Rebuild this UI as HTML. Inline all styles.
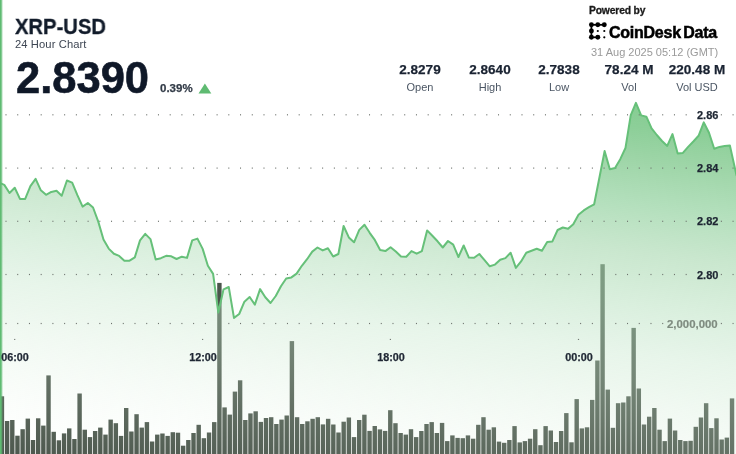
<!DOCTYPE html>
<html><head><meta charset="utf-8">
<style>
html,body{margin:0;padding:0;background:#fff;}
body{width:736px;height:454px;position:relative;overflow:hidden;font-family:"Liberation Sans",sans-serif;}
#w{position:absolute;left:0;top:0;width:736px;height:454px;filter:blur(0.35px);}
.t{position:absolute;white-space:nowrap;line-height:1;will-change:transform;}
svg{position:absolute;left:0;top:0;}
.c{width:100px;text-align:center;}
.r{right:18px;text-align:right;}
</style></head><body><div id="w">
<svg width="736" height="454" viewBox="0 0 736 454">
  <defs>
    <linearGradient id="g" x1="647" y1="76" x2="593.0" y2="535.7" gradientUnits="userSpaceOnUse"><stop offset="0.0000" stop-color="#73c482" stop-opacity="0.920"/><stop offset="0.1116" stop-color="#78c686" stop-opacity="0.850"/><stop offset="0.1867" stop-color="#84ca90" stop-opacity="0.780"/><stop offset="0.2725" stop-color="#91d19e" stop-opacity="0.700"/><stop offset="0.3798" stop-color="#a4d6ac" stop-opacity="0.590"/><stop offset="0.4249" stop-color="#a9d9b1" stop-opacity="0.550"/><stop offset="0.4936" stop-color="#b3dfbb" stop-opacity="0.490"/><stop offset="0.5622" stop-color="#bbe2c3" stop-opacity="0.420"/><stop offset="0.6009" stop-color="#c1e5c8" stop-opacity="0.380"/><stop offset="0.6545" stop-color="#c7e7cc" stop-opacity="0.340"/><stop offset="0.7082" stop-color="#cce9d0" stop-opacity="0.280"/><stop offset="0.8305" stop-color="#d7eed9" stop-opacity="0.150"/><stop offset="0.9335" stop-color="#e6f8e7" stop-opacity="0.056"/><stop offset="1.0000" stop-color="#f0faf0" stop-opacity="0.000"/></linearGradient>
  </defs>
  <g fill="#4a554b"><rect x="-0.27" y="396.3" width="4.4" height="57.7"/><rect x="4.91" y="421" width="4.4" height="33"/><rect x="10.09" y="420" width="4.4" height="34"/><rect x="15.26" y="435.7" width="4.4" height="18.3"/><rect x="20.44" y="429.2" width="4.4" height="24.8"/><rect x="25.62" y="418.6" width="4.4" height="35.4"/><rect x="30.8" y="440" width="4.4" height="14"/><rect x="35.98" y="418.3" width="4.4" height="35.7"/><rect x="41.15" y="425.6" width="4.4" height="28.4"/><rect x="46.33" y="375.4" width="4.4" height="78.6"/><rect x="51.51" y="431.8" width="4.4" height="22.2"/><rect x="56.69" y="440.3" width="4.4" height="13.7"/><rect x="61.87" y="433.4" width="4.4" height="20.6"/><rect x="67.04" y="428.4" width="4.4" height="25.6"/><rect x="72.22" y="439" width="4.4" height="15"/><rect x="77.4" y="393.5" width="4.4" height="60.5"/><rect x="82.58" y="429.7" width="4.4" height="24.3"/><rect x="87.76" y="437.1" width="4.4" height="16.9"/><rect x="92.93" y="431" width="4.4" height="23"/><rect x="98.11" y="427.6" width="4.4" height="26.4"/><rect x="103.29" y="434.6" width="4.4" height="19.4"/><rect x="108.47" y="419.6" width="4.4" height="34.4"/><rect x="113.65" y="423.2" width="4.4" height="30.8"/><rect x="118.82" y="435.9" width="4.4" height="18.1"/><rect x="124" y="408" width="4.4" height="46"/><rect x="129.18" y="431.5" width="4.4" height="22.5"/><rect x="134.36" y="414.2" width="4.4" height="39.8"/><rect x="139.54" y="427.6" width="4.4" height="26.4"/><rect x="144.71" y="422.1" width="4.4" height="31.9"/><rect x="149.89" y="441.5" width="4.4" height="12.5"/><rect x="155.07" y="434.6" width="4.4" height="19.4"/><rect x="160.25" y="433.5" width="4.4" height="20.5"/><rect x="165.43" y="435.9" width="4.4" height="18.1"/><rect x="170.6" y="432.2" width="4.4" height="21.8"/><rect x="175.78" y="432.7" width="4.4" height="21.3"/><rect x="180.96" y="445.7" width="4.4" height="8.3"/><rect x="186.14" y="440" width="4.4" height="14"/><rect x="191.32" y="433" width="4.4" height="21"/><rect x="196.49" y="424.8" width="4.4" height="29.2"/><rect x="201.67" y="438.2" width="4.4" height="15.8"/><rect x="206.85" y="432.5" width="4.4" height="21.5"/><rect x="212.03" y="422.1" width="4.4" height="31.9"/><rect x="217.21" y="282.9" width="4.4" height="171.1"/><rect x="222.38" y="407.4" width="4.4" height="46.6"/><rect x="227.56" y="414.6" width="4.4" height="39.4"/><rect x="232.74" y="391.6" width="4.4" height="62.4"/><rect x="237.92" y="380.3" width="4.4" height="73.7"/><rect x="243.1" y="420" width="4.4" height="34"/><rect x="248.27" y="413.4" width="4.4" height="40.6"/><rect x="253.45" y="411.3" width="4.4" height="42.7"/><rect x="258.63" y="421.9" width="4.4" height="32.1"/><rect x="263.81" y="418" width="4.4" height="36"/><rect x="268.99" y="417.2" width="4.4" height="36.8"/><rect x="274.16" y="424" width="4.4" height="30"/><rect x="279.34" y="419.6" width="4.4" height="34.4"/><rect x="284.52" y="415.5" width="4.4" height="38.5"/><rect x="289.7" y="341.1" width="4.4" height="112.9"/><rect x="294.88" y="417.2" width="4.4" height="36.8"/><rect x="300.05" y="424" width="4.4" height="30"/><rect x="305.23" y="421.3" width="4.4" height="32.7"/><rect x="310.41" y="418.8" width="4.4" height="35.2"/><rect x="315.59" y="417.2" width="4.4" height="36.8"/><rect x="320.77" y="424.4" width="4.4" height="29.6"/><rect x="325.94" y="418.8" width="4.4" height="35.2"/><rect x="331.12" y="424.5" width="4.4" height="29.5"/><rect x="336.3" y="432.5" width="4.4" height="21.5"/><rect x="341.48" y="421.7" width="4.4" height="32.3"/><rect x="346.66" y="417.5" width="4.4" height="36.5"/><rect x="351.83" y="437.1" width="4.4" height="16.9"/><rect x="357.01" y="420" width="4.4" height="34"/><rect x="362.19" y="414.7" width="4.4" height="39.3"/><rect x="367.37" y="430.9" width="4.4" height="23.1"/><rect x="372.55" y="426" width="4.4" height="28"/><rect x="377.72" y="429.4" width="4.4" height="24.6"/><rect x="382.9" y="430.9" width="4.4" height="23.1"/><rect x="388.08" y="410.2" width="4.4" height="43.8"/><rect x="393.26" y="423.2" width="4.4" height="30.8"/><rect x="398.44" y="433" width="4.4" height="21"/><rect x="403.61" y="434.6" width="4.4" height="19.4"/><rect x="408.79" y="429.2" width="4.4" height="24.8"/><rect x="413.97" y="437.1" width="4.4" height="16.9"/><rect x="419.15" y="431" width="4.4" height="23"/><rect x="424.33" y="424" width="4.4" height="30"/><rect x="429.5" y="422.1" width="4.4" height="31.9"/><rect x="434.68" y="433" width="4.4" height="21"/><rect x="439.86" y="422.9" width="4.4" height="31.1"/><rect x="445.04" y="441.1" width="4.4" height="12.9"/><rect x="450.22" y="435.4" width="4.4" height="18.6"/><rect x="455.39" y="437.9" width="4.4" height="16.1"/><rect x="460.57" y="438.2" width="4.4" height="15.8"/><rect x="465.75" y="435.4" width="4.4" height="18.6"/><rect x="470.93" y="438.7" width="4.4" height="15.3"/><rect x="476.11" y="424.8" width="4.4" height="29.2"/><rect x="481.28" y="417.2" width="4.4" height="36.8"/><rect x="486.46" y="429.7" width="4.4" height="24.3"/><rect x="491.64" y="427.3" width="4.4" height="26.7"/><rect x="496.82" y="441.6" width="4.4" height="12.4"/><rect x="502" y="442.8" width="4.4" height="11.2"/><rect x="507.17" y="440" width="4.4" height="14"/><rect x="512.35" y="426.1" width="4.4" height="27.9"/><rect x="517.53" y="442.4" width="4.4" height="11.6"/><rect x="522.71" y="441.1" width="4.4" height="12.9"/><rect x="527.89" y="438.7" width="4.4" height="15.3"/><rect x="533.06" y="429.2" width="4.4" height="24.8"/><rect x="538.24" y="445.2" width="4.4" height="8.8"/><rect x="543.42" y="426.1" width="4.4" height="27.9"/><rect x="548.6" y="430.5" width="4.4" height="23.5"/><rect x="553.78" y="442" width="4.4" height="12"/><rect x="558.95" y="431" width="4.4" height="23"/><rect x="564.13" y="413.1" width="4.4" height="40.9"/><rect x="569.31" y="442.3" width="4.4" height="11.7"/><rect x="574.49" y="399.1" width="4.4" height="54.9"/><rect x="579.67" y="428.4" width="4.4" height="25.6"/><rect x="584.84" y="427.3" width="4.4" height="26.7"/><rect x="590.02" y="399.9" width="4.4" height="54.1"/><rect x="595.2" y="360.5" width="4.4" height="93.5"/><rect x="600.38" y="264.2" width="4.4" height="189.8"/><rect x="605.56" y="389.6" width="4.4" height="64.4"/><rect x="610.73" y="427.8" width="4.4" height="26.2"/><rect x="615.91" y="403.2" width="4.4" height="50.8"/><rect x="621.09" y="402.5" width="4.4" height="51.5"/><rect x="626.27" y="396.3" width="4.4" height="57.7"/><rect x="631.45" y="327.9" width="4.4" height="126.1"/><rect x="636.62" y="388.5" width="4.4" height="65.5"/><rect x="641.8" y="424.5" width="4.4" height="29.5"/><rect x="646.98" y="416.7" width="4.4" height="37.3"/><rect x="652.16" y="408" width="4.4" height="46"/><rect x="657.34" y="429.7" width="4.4" height="24.3"/><rect x="662.51" y="441.1" width="4.4" height="12.9"/><rect x="667.69" y="418.6" width="4.4" height="35.4"/><rect x="672.87" y="430.5" width="4.4" height="23.5"/><rect x="678.05" y="440" width="4.4" height="14"/><rect x="683.23" y="441.1" width="4.4" height="12.9"/><rect x="688.4" y="440.8" width="4.4" height="13.2"/><rect x="693.58" y="426.8" width="4.4" height="27.2"/><rect x="698.76" y="417.5" width="4.4" height="36.5"/><rect x="703.94" y="403.2" width="4.4" height="50.8"/><rect x="709.12" y="428.1" width="4.4" height="25.9"/><rect x="714.29" y="418.3" width="4.4" height="35.7"/><rect x="719.47" y="439.5" width="4.4" height="14.5"/><rect x="724.65" y="437.6" width="4.4" height="16.4"/><rect x="729.83" y="398.4" width="4.4" height="55.6"/></g>
  <path d="M-0.92 182.6 L4.3 184.9 L9.52 193 L14.74 187.8 L19.96 198.9 L25.18 198.9 L30.4 186.2 L35.62 178.9 L40.84 190.3 L46.06 194.8 L51.28 191.9 L56.5 190.8 L61.72 195.7 L66.94 180.5 L72.16 182.6 L77.38 195.2 L82.6 206.6 L87.82 203 L93.04 207.5 L98.26 221.6 L103.48 239.5 L108.7 248.6 L113.92 253.8 L119.14 255.9 L124.36 260.7 L129.58 260.7 L134.8 257.4 L140.02 240.4 L145.24 233.9 L150.46 239.1 L155.68 259.5 L160.9 258.2 L166.12 255.8 L171.34 256.3 L176.56 259 L181.78 256.7 L187 257.9 L192.22 240.4 L197.44 238.6 L202.66 248.9 L207.88 265.7 L213.1 273.9 L218.32 312.5 L223.54 289.3 L228.76 287 L233.98 317.9 L239.2 314 L244.42 301.7 L249.64 297 L254.86 304.6 L260.08 289.1 L265.3 297.3 L270.52 303 L275.74 296 L280.96 286.2 L286.18 278.5 L291.4 277.4 L296.62 273.6 L301.84 265.8 L307.06 259.2 L312.28 251.6 L317.5 247.5 L322.72 250.4 L327.94 248.3 L333.16 256.5 L338.38 254 L343.6 226 L348.82 237.4 L354.04 242.3 L359.26 229.9 L364.48 224.7 L369.7 232.8 L374.92 240.2 L380.14 250 L385.36 251.1 L390.58 247.2 L395.8 251.6 L401.02 256.5 L406.24 256.8 L411.46 251.1 L416.68 253.7 L421.9 251.1 L427.12 230.4 L432.34 235.8 L437.56 241.3 L442.78 247.5 L448 241 L453.22 244.6 L458.44 257 L463.66 245.5 L468.88 257.6 L474.1 257.8 L479.32 254 L484.54 260.2 L489.76 266.3 L494.98 264.6 L500.2 259.7 L505.42 258.1 L510.64 252.7 L515.86 267.9 L521.08 261.4 L526.3 252.7 L531.52 250.7 L536.74 248.7 L541.96 250.8 L547.18 241.9 L552.4 241.4 L557.62 230 L562.84 227.5 L568.06 228.8 L573.28 224.2 L578.5 214.8 L583.72 210.4 L588.94 207.1 L594.16 204.3 L599.38 177.7 L604.6 151.1 L609.82 169.3 L615.04 168 L620.26 159.2 L625.48 148 L630.7 115.4 L635.92 102.8 L641.14 115.4 L646.36 116.7 L651.58 128.4 L656.8 135 L662.02 141 L667.24 145.9 L672.46 134.1 L677.68 153.4 L682.9 152.9 L688.12 146.9 L693.34 141.5 L698.56 135.8 L703.78 122.4 L709 132.8 L714.22 148.8 L719.44 146.9 L724.66 145.9 L729.88 145.5 L735.1 169 L736.5 175.3 L736.5 454 L-1 454 Z" fill="url(#g)"/>
  <g fill="#6a6f6a"><rect x="5.5" y="114.2" width="1" height="1.2"/><rect x="17.23" y="114.2" width="1" height="1.2"/><rect x="28.95" y="114.2" width="1" height="1.2"/><rect x="40.68" y="114.2" width="1" height="1.2"/><rect x="52.41" y="114.2" width="1" height="1.2"/><rect x="64.14" y="114.2" width="1" height="1.2"/><rect x="75.86" y="114.2" width="1" height="1.2"/><rect x="87.59" y="114.2" width="1" height="1.2"/><rect x="99.32" y="114.2" width="1" height="1.2"/><rect x="111.04" y="114.2" width="1" height="1.2"/><rect x="122.77" y="114.2" width="1" height="1.2"/><rect x="134.5" y="114.2" width="1" height="1.2"/><rect x="146.22" y="114.2" width="1" height="1.2"/><rect x="157.95" y="114.2" width="1" height="1.2"/><rect x="169.68" y="114.2" width="1" height="1.2"/><rect x="181.41" y="114.2" width="1" height="1.2"/><rect x="193.13" y="114.2" width="1" height="1.2"/><rect x="204.86" y="114.2" width="1" height="1.2"/><rect x="216.59" y="114.2" width="1" height="1.2"/><rect x="228.31" y="114.2" width="1" height="1.2"/><rect x="240.04" y="114.2" width="1" height="1.2"/><rect x="251.77" y="114.2" width="1" height="1.2"/><rect x="263.49" y="114.2" width="1" height="1.2"/><rect x="275.22" y="114.2" width="1" height="1.2"/><rect x="286.95" y="114.2" width="1" height="1.2"/><rect x="298.68" y="114.2" width="1" height="1.2"/><rect x="310.4" y="114.2" width="1" height="1.2"/><rect x="322.13" y="114.2" width="1" height="1.2"/><rect x="333.86" y="114.2" width="1" height="1.2"/><rect x="345.58" y="114.2" width="1" height="1.2"/><rect x="357.31" y="114.2" width="1" height="1.2"/><rect x="369.04" y="114.2" width="1" height="1.2"/><rect x="380.76" y="114.2" width="1" height="1.2"/><rect x="392.49" y="114.2" width="1" height="1.2"/><rect x="404.22" y="114.2" width="1" height="1.2"/><rect x="415.94" y="114.2" width="1" height="1.2"/><rect x="427.67" y="114.2" width="1" height="1.2"/><rect x="439.4" y="114.2" width="1" height="1.2"/><rect x="451.13" y="114.2" width="1" height="1.2"/><rect x="462.85" y="114.2" width="1" height="1.2"/><rect x="474.58" y="114.2" width="1" height="1.2"/><rect x="486.31" y="114.2" width="1" height="1.2"/><rect x="498.03" y="114.2" width="1" height="1.2"/><rect x="509.76" y="114.2" width="1" height="1.2"/><rect x="521.49" y="114.2" width="1" height="1.2"/><rect x="533.22" y="114.2" width="1" height="1.2"/><rect x="544.94" y="114.2" width="1" height="1.2"/><rect x="556.67" y="114.2" width="1" height="1.2"/><rect x="568.4" y="114.2" width="1" height="1.2"/><rect x="580.12" y="114.2" width="1" height="1.2"/><rect x="591.85" y="114.2" width="1" height="1.2"/><rect x="603.58" y="114.2" width="1" height="1.2"/><rect x="615.3" y="114.2" width="1" height="1.2"/><rect x="627.03" y="114.2" width="1" height="1.2"/><rect x="638.76" y="114.2" width="1" height="1.2"/><rect x="650.49" y="114.2" width="1" height="1.2"/><rect x="662.21" y="114.2" width="1" height="1.2"/><rect x="673.94" y="114.2" width="1" height="1.2"/><rect x="685.67" y="114.2" width="1" height="1.2"/><rect x="720.85" y="114.2" width="1" height="1.2"/><rect x="732.57" y="114.2" width="1" height="1.2"/><rect x="5.5" y="167.5" width="1" height="1.2"/><rect x="17.23" y="167.5" width="1" height="1.2"/><rect x="28.95" y="167.5" width="1" height="1.2"/><rect x="40.68" y="167.5" width="1" height="1.2"/><rect x="52.41" y="167.5" width="1" height="1.2"/><rect x="64.14" y="167.5" width="1" height="1.2"/><rect x="75.86" y="167.5" width="1" height="1.2"/><rect x="87.59" y="167.5" width="1" height="1.2"/><rect x="99.32" y="167.5" width="1" height="1.2"/><rect x="111.04" y="167.5" width="1" height="1.2"/><rect x="122.77" y="167.5" width="1" height="1.2"/><rect x="134.5" y="167.5" width="1" height="1.2"/><rect x="146.22" y="167.5" width="1" height="1.2"/><rect x="157.95" y="167.5" width="1" height="1.2"/><rect x="169.68" y="167.5" width="1" height="1.2"/><rect x="181.41" y="167.5" width="1" height="1.2"/><rect x="193.13" y="167.5" width="1" height="1.2"/><rect x="204.86" y="167.5" width="1" height="1.2"/><rect x="216.59" y="167.5" width="1" height="1.2"/><rect x="228.31" y="167.5" width="1" height="1.2"/><rect x="240.04" y="167.5" width="1" height="1.2"/><rect x="251.77" y="167.5" width="1" height="1.2"/><rect x="263.49" y="167.5" width="1" height="1.2"/><rect x="275.22" y="167.5" width="1" height="1.2"/><rect x="286.95" y="167.5" width="1" height="1.2"/><rect x="298.68" y="167.5" width="1" height="1.2"/><rect x="310.4" y="167.5" width="1" height="1.2"/><rect x="322.13" y="167.5" width="1" height="1.2"/><rect x="333.86" y="167.5" width="1" height="1.2"/><rect x="345.58" y="167.5" width="1" height="1.2"/><rect x="357.31" y="167.5" width="1" height="1.2"/><rect x="369.04" y="167.5" width="1" height="1.2"/><rect x="380.76" y="167.5" width="1" height="1.2"/><rect x="392.49" y="167.5" width="1" height="1.2"/><rect x="404.22" y="167.5" width="1" height="1.2"/><rect x="415.94" y="167.5" width="1" height="1.2"/><rect x="427.67" y="167.5" width="1" height="1.2"/><rect x="439.4" y="167.5" width="1" height="1.2"/><rect x="451.13" y="167.5" width="1" height="1.2"/><rect x="462.85" y="167.5" width="1" height="1.2"/><rect x="474.58" y="167.5" width="1" height="1.2"/><rect x="486.31" y="167.5" width="1" height="1.2"/><rect x="498.03" y="167.5" width="1" height="1.2"/><rect x="509.76" y="167.5" width="1" height="1.2"/><rect x="521.49" y="167.5" width="1" height="1.2"/><rect x="533.22" y="167.5" width="1" height="1.2"/><rect x="544.94" y="167.5" width="1" height="1.2"/><rect x="556.67" y="167.5" width="1" height="1.2"/><rect x="568.4" y="167.5" width="1" height="1.2"/><rect x="580.12" y="167.5" width="1" height="1.2"/><rect x="591.85" y="167.5" width="1" height="1.2"/><rect x="603.58" y="167.5" width="1" height="1.2"/><rect x="615.3" y="167.5" width="1" height="1.2"/><rect x="627.03" y="167.5" width="1" height="1.2"/><rect x="638.76" y="167.5" width="1" height="1.2"/><rect x="650.49" y="167.5" width="1" height="1.2"/><rect x="662.21" y="167.5" width="1" height="1.2"/><rect x="673.94" y="167.5" width="1" height="1.2"/><rect x="685.67" y="167.5" width="1" height="1.2"/><rect x="720.85" y="167.5" width="1" height="1.2"/><rect x="732.57" y="167.5" width="1" height="1.2"/><rect x="5.5" y="220.7" width="1" height="1.2"/><rect x="17.23" y="220.7" width="1" height="1.2"/><rect x="28.95" y="220.7" width="1" height="1.2"/><rect x="40.68" y="220.7" width="1" height="1.2"/><rect x="52.41" y="220.7" width="1" height="1.2"/><rect x="64.14" y="220.7" width="1" height="1.2"/><rect x="75.86" y="220.7" width="1" height="1.2"/><rect x="87.59" y="220.7" width="1" height="1.2"/><rect x="99.32" y="220.7" width="1" height="1.2"/><rect x="111.04" y="220.7" width="1" height="1.2"/><rect x="122.77" y="220.7" width="1" height="1.2"/><rect x="134.5" y="220.7" width="1" height="1.2"/><rect x="146.22" y="220.7" width="1" height="1.2"/><rect x="157.95" y="220.7" width="1" height="1.2"/><rect x="169.68" y="220.7" width="1" height="1.2"/><rect x="181.41" y="220.7" width="1" height="1.2"/><rect x="193.13" y="220.7" width="1" height="1.2"/><rect x="204.86" y="220.7" width="1" height="1.2"/><rect x="216.59" y="220.7" width="1" height="1.2"/><rect x="228.31" y="220.7" width="1" height="1.2"/><rect x="240.04" y="220.7" width="1" height="1.2"/><rect x="251.77" y="220.7" width="1" height="1.2"/><rect x="263.49" y="220.7" width="1" height="1.2"/><rect x="275.22" y="220.7" width="1" height="1.2"/><rect x="286.95" y="220.7" width="1" height="1.2"/><rect x="298.68" y="220.7" width="1" height="1.2"/><rect x="310.4" y="220.7" width="1" height="1.2"/><rect x="322.13" y="220.7" width="1" height="1.2"/><rect x="333.86" y="220.7" width="1" height="1.2"/><rect x="345.58" y="220.7" width="1" height="1.2"/><rect x="357.31" y="220.7" width="1" height="1.2"/><rect x="369.04" y="220.7" width="1" height="1.2"/><rect x="380.76" y="220.7" width="1" height="1.2"/><rect x="392.49" y="220.7" width="1" height="1.2"/><rect x="404.22" y="220.7" width="1" height="1.2"/><rect x="415.94" y="220.7" width="1" height="1.2"/><rect x="427.67" y="220.7" width="1" height="1.2"/><rect x="439.4" y="220.7" width="1" height="1.2"/><rect x="451.13" y="220.7" width="1" height="1.2"/><rect x="462.85" y="220.7" width="1" height="1.2"/><rect x="474.58" y="220.7" width="1" height="1.2"/><rect x="486.31" y="220.7" width="1" height="1.2"/><rect x="498.03" y="220.7" width="1" height="1.2"/><rect x="509.76" y="220.7" width="1" height="1.2"/><rect x="521.49" y="220.7" width="1" height="1.2"/><rect x="533.22" y="220.7" width="1" height="1.2"/><rect x="544.94" y="220.7" width="1" height="1.2"/><rect x="556.67" y="220.7" width="1" height="1.2"/><rect x="568.4" y="220.7" width="1" height="1.2"/><rect x="580.12" y="220.7" width="1" height="1.2"/><rect x="591.85" y="220.7" width="1" height="1.2"/><rect x="603.58" y="220.7" width="1" height="1.2"/><rect x="615.3" y="220.7" width="1" height="1.2"/><rect x="627.03" y="220.7" width="1" height="1.2"/><rect x="638.76" y="220.7" width="1" height="1.2"/><rect x="650.49" y="220.7" width="1" height="1.2"/><rect x="662.21" y="220.7" width="1" height="1.2"/><rect x="673.94" y="220.7" width="1" height="1.2"/><rect x="685.67" y="220.7" width="1" height="1.2"/><rect x="720.85" y="220.7" width="1" height="1.2"/><rect x="732.57" y="220.7" width="1" height="1.2"/><rect x="5.5" y="273.9" width="1" height="1.2"/><rect x="17.23" y="273.9" width="1" height="1.2"/><rect x="28.95" y="273.9" width="1" height="1.2"/><rect x="40.68" y="273.9" width="1" height="1.2"/><rect x="52.41" y="273.9" width="1" height="1.2"/><rect x="64.14" y="273.9" width="1" height="1.2"/><rect x="75.86" y="273.9" width="1" height="1.2"/><rect x="87.59" y="273.9" width="1" height="1.2"/><rect x="99.32" y="273.9" width="1" height="1.2"/><rect x="111.04" y="273.9" width="1" height="1.2"/><rect x="122.77" y="273.9" width="1" height="1.2"/><rect x="134.5" y="273.9" width="1" height="1.2"/><rect x="146.22" y="273.9" width="1" height="1.2"/><rect x="157.95" y="273.9" width="1" height="1.2"/><rect x="169.68" y="273.9" width="1" height="1.2"/><rect x="181.41" y="273.9" width="1" height="1.2"/><rect x="193.13" y="273.9" width="1" height="1.2"/><rect x="204.86" y="273.9" width="1" height="1.2"/><rect x="216.59" y="273.9" width="1" height="1.2"/><rect x="228.31" y="273.9" width="1" height="1.2"/><rect x="240.04" y="273.9" width="1" height="1.2"/><rect x="251.77" y="273.9" width="1" height="1.2"/><rect x="263.49" y="273.9" width="1" height="1.2"/><rect x="275.22" y="273.9" width="1" height="1.2"/><rect x="286.95" y="273.9" width="1" height="1.2"/><rect x="298.68" y="273.9" width="1" height="1.2"/><rect x="310.4" y="273.9" width="1" height="1.2"/><rect x="322.13" y="273.9" width="1" height="1.2"/><rect x="333.86" y="273.9" width="1" height="1.2"/><rect x="345.58" y="273.9" width="1" height="1.2"/><rect x="357.31" y="273.9" width="1" height="1.2"/><rect x="369.04" y="273.9" width="1" height="1.2"/><rect x="380.76" y="273.9" width="1" height="1.2"/><rect x="392.49" y="273.9" width="1" height="1.2"/><rect x="404.22" y="273.9" width="1" height="1.2"/><rect x="415.94" y="273.9" width="1" height="1.2"/><rect x="427.67" y="273.9" width="1" height="1.2"/><rect x="439.4" y="273.9" width="1" height="1.2"/><rect x="451.13" y="273.9" width="1" height="1.2"/><rect x="462.85" y="273.9" width="1" height="1.2"/><rect x="474.58" y="273.9" width="1" height="1.2"/><rect x="486.31" y="273.9" width="1" height="1.2"/><rect x="498.03" y="273.9" width="1" height="1.2"/><rect x="509.76" y="273.9" width="1" height="1.2"/><rect x="521.49" y="273.9" width="1" height="1.2"/><rect x="533.22" y="273.9" width="1" height="1.2"/><rect x="544.94" y="273.9" width="1" height="1.2"/><rect x="556.67" y="273.9" width="1" height="1.2"/><rect x="568.4" y="273.9" width="1" height="1.2"/><rect x="580.12" y="273.9" width="1" height="1.2"/><rect x="591.85" y="273.9" width="1" height="1.2"/><rect x="615.3" y="273.9" width="1" height="1.2"/><rect x="627.03" y="273.9" width="1" height="1.2"/><rect x="638.76" y="273.9" width="1" height="1.2"/><rect x="650.49" y="273.9" width="1" height="1.2"/><rect x="662.21" y="273.9" width="1" height="1.2"/><rect x="673.94" y="273.9" width="1" height="1.2"/><rect x="685.67" y="273.9" width="1" height="1.2"/><rect x="720.85" y="273.9" width="1" height="1.2"/><rect x="732.57" y="273.9" width="1" height="1.2"/><rect x="5.5" y="322.9" width="1" height="1.2"/><rect x="17.23" y="322.9" width="1" height="1.2"/><rect x="28.95" y="322.9" width="1" height="1.2"/><rect x="40.68" y="322.9" width="1" height="1.2"/><rect x="52.41" y="322.9" width="1" height="1.2"/><rect x="64.14" y="322.9" width="1" height="1.2"/><rect x="75.86" y="322.9" width="1" height="1.2"/><rect x="87.59" y="322.9" width="1" height="1.2"/><rect x="99.32" y="322.9" width="1" height="1.2"/><rect x="111.04" y="322.9" width="1" height="1.2"/><rect x="122.77" y="322.9" width="1" height="1.2"/><rect x="134.5" y="322.9" width="1" height="1.2"/><rect x="146.22" y="322.9" width="1" height="1.2"/><rect x="157.95" y="322.9" width="1" height="1.2"/><rect x="169.68" y="322.9" width="1" height="1.2"/><rect x="181.41" y="322.9" width="1" height="1.2"/><rect x="193.13" y="322.9" width="1" height="1.2"/><rect x="204.86" y="322.9" width="1" height="1.2"/><rect x="228.31" y="322.9" width="1" height="1.2"/><rect x="240.04" y="322.9" width="1" height="1.2"/><rect x="251.77" y="322.9" width="1" height="1.2"/><rect x="263.49" y="322.9" width="1" height="1.2"/><rect x="275.22" y="322.9" width="1" height="1.2"/><rect x="286.95" y="322.9" width="1" height="1.2"/><rect x="298.68" y="322.9" width="1" height="1.2"/><rect x="310.4" y="322.9" width="1" height="1.2"/><rect x="322.13" y="322.9" width="1" height="1.2"/><rect x="333.86" y="322.9" width="1" height="1.2"/><rect x="345.58" y="322.9" width="1" height="1.2"/><rect x="357.31" y="322.9" width="1" height="1.2"/><rect x="369.04" y="322.9" width="1" height="1.2"/><rect x="380.76" y="322.9" width="1" height="1.2"/><rect x="392.49" y="322.9" width="1" height="1.2"/><rect x="404.22" y="322.9" width="1" height="1.2"/><rect x="415.94" y="322.9" width="1" height="1.2"/><rect x="427.67" y="322.9" width="1" height="1.2"/><rect x="439.4" y="322.9" width="1" height="1.2"/><rect x="451.13" y="322.9" width="1" height="1.2"/><rect x="462.85" y="322.9" width="1" height="1.2"/><rect x="474.58" y="322.9" width="1" height="1.2"/><rect x="486.31" y="322.9" width="1" height="1.2"/><rect x="498.03" y="322.9" width="1" height="1.2"/><rect x="509.76" y="322.9" width="1" height="1.2"/><rect x="521.49" y="322.9" width="1" height="1.2"/><rect x="533.22" y="322.9" width="1" height="1.2"/><rect x="544.94" y="322.9" width="1" height="1.2"/><rect x="556.67" y="322.9" width="1" height="1.2"/><rect x="568.4" y="322.9" width="1" height="1.2"/><rect x="580.12" y="322.9" width="1" height="1.2"/><rect x="591.85" y="322.9" width="1" height="1.2"/><rect x="615.3" y="322.9" width="1" height="1.2"/><rect x="627.03" y="322.9" width="1" height="1.2"/><rect x="638.76" y="322.9" width="1" height="1.2"/><rect x="650.49" y="322.9" width="1" height="1.2"/><rect x="662.21" y="322.9" width="1" height="1.2"/><rect x="720.85" y="322.9" width="1" height="1.2"/><rect x="732.57" y="322.9" width="1" height="1.2"/><rect x="14.1" y="338.9" width="1.2" height="1"/><rect x="202" y="338.9" width="1.2" height="1"/><rect x="389.8" y="338.9" width="1.2" height="1"/><rect x="577.9" y="338.9" width="1.2" height="1"/></g>
  <path d="M-0.92 182.6 L4.3 184.9 L9.52 193 L14.74 187.8 L19.96 198.9 L25.18 198.9 L30.4 186.2 L35.62 178.9 L40.84 190.3 L46.06 194.8 L51.28 191.9 L56.5 190.8 L61.72 195.7 L66.94 180.5 L72.16 182.6 L77.38 195.2 L82.6 206.6 L87.82 203 L93.04 207.5 L98.26 221.6 L103.48 239.5 L108.7 248.6 L113.92 253.8 L119.14 255.9 L124.36 260.7 L129.58 260.7 L134.8 257.4 L140.02 240.4 L145.24 233.9 L150.46 239.1 L155.68 259.5 L160.9 258.2 L166.12 255.8 L171.34 256.3 L176.56 259 L181.78 256.7 L187 257.9 L192.22 240.4 L197.44 238.6 L202.66 248.9 L207.88 265.7 L213.1 273.9 L218.32 312.5 L223.54 289.3 L228.76 287 L233.98 317.9 L239.2 314 L244.42 301.7 L249.64 297 L254.86 304.6 L260.08 289.1 L265.3 297.3 L270.52 303 L275.74 296 L280.96 286.2 L286.18 278.5 L291.4 277.4 L296.62 273.6 L301.84 265.8 L307.06 259.2 L312.28 251.6 L317.5 247.5 L322.72 250.4 L327.94 248.3 L333.16 256.5 L338.38 254 L343.6 226 L348.82 237.4 L354.04 242.3 L359.26 229.9 L364.48 224.7 L369.7 232.8 L374.92 240.2 L380.14 250 L385.36 251.1 L390.58 247.2 L395.8 251.6 L401.02 256.5 L406.24 256.8 L411.46 251.1 L416.68 253.7 L421.9 251.1 L427.12 230.4 L432.34 235.8 L437.56 241.3 L442.78 247.5 L448 241 L453.22 244.6 L458.44 257 L463.66 245.5 L468.88 257.6 L474.1 257.8 L479.32 254 L484.54 260.2 L489.76 266.3 L494.98 264.6 L500.2 259.7 L505.42 258.1 L510.64 252.7 L515.86 267.9 L521.08 261.4 L526.3 252.7 L531.52 250.7 L536.74 248.7 L541.96 250.8 L547.18 241.9 L552.4 241.4 L557.62 230 L562.84 227.5 L568.06 228.8 L573.28 224.2 L578.5 214.8 L583.72 210.4 L588.94 207.1 L594.16 204.3 L599.38 177.7 L604.6 151.1 L609.82 169.3 L615.04 168 L620.26 159.2 L625.48 148 L630.7 115.4 L635.92 102.8 L641.14 115.4 L646.36 116.7 L651.58 128.4 L656.8 135 L662.02 141 L667.24 145.9 L672.46 134.1 L677.68 153.4 L682.9 152.9 L688.12 146.9 L693.34 141.5 L698.56 135.8 L703.78 122.4 L709 132.8 L714.22 148.8 L719.44 146.9 L724.66 145.9 L729.88 145.5 L735.1 169 L736.5 175.3" fill="none" stroke="#66c079" stroke-width="2" stroke-linejoin="round" stroke-linecap="round"/>
  <rect x="0" y="0" width="1" height="454" fill="#5fbb72"/><rect x="1" y="0" width="1" height="454" fill="#5fbb72" fill-opacity="0.76"/><rect x="2" y="0" width="1" height="454" fill="#5fbb72" fill-opacity="0.26"/>
</svg>
<div class="t" style="left:15px;top:17px;font-size:21.5px;font-weight:bold;color:#111b2a;-webkit-text-stroke:0.3px #111b2a;transform:scaleX(0.94);transform-origin:0 0;">XRP-USD</div>
<div class="t" style="left:14.5px;top:39px;font-size:11.2px;color:#3e4653;letter-spacing:0.1px;">24 Hour Chart</div>
<div class="t" style="left:16px;top:57px;font-size:43.5px;font-weight:bold;color:#0f1828;-webkit-text-stroke:0.6px #0f1828;">2.8390</div>
<div class="t" style="left:160.3px;top:82.5px;font-size:11.5px;font-weight:bold;color:#333c48;-webkit-text-stroke:0.25px #333c48;">0.39%</div>
<div class="t" style="left:589px;top:6px;font-size:10.3px;font-weight:bold;color:#1a1a1a;letter-spacing:-0.15px;-webkit-text-stroke:0.3px #1a1a1a;">Powered by</div>
<div class="t" style="left:608.5px;top:24.5px;font-size:16px;font-weight:bold;color:#000;letter-spacing:-0.25px;-webkit-text-stroke:0.5px #000;">CoinDesk<span style="margin-left:2.5px">Data</span></div>
<div class="t" style="left:590.5px;top:47px;font-size:11px;color:#9a9a9a;">31 Aug 2025 05:12 (GMT)</div>
<div class="t c" style="left:370.3px;top:63px;font-size:13.5px;font-weight:bold;color:#1a2332;-webkit-text-stroke:0.25px #1a2332;">2.8279</div>
<div class="t c" style="left:370.3px;top:81.5px;font-size:11px;color:#4a5563;">Open</div>
<div class="t c" style="left:439.5px;top:63px;font-size:13.5px;font-weight:bold;color:#1a2332;-webkit-text-stroke:0.25px #1a2332;">2.8640</div>
<div class="t c" style="left:439.5px;top:81.5px;font-size:11px;color:#4a5563;">High</div>
<div class="t c" style="left:508.8px;top:63px;font-size:13.5px;font-weight:bold;color:#1a2332;-webkit-text-stroke:0.25px #1a2332;">2.7838</div>
<div class="t c" style="left:508.8px;top:81.5px;font-size:11px;color:#4a5563;">Low</div>
<div class="t c" style="left:578.5px;top:63px;font-size:13.5px;font-weight:bold;color:#1a2332;-webkit-text-stroke:0.25px #1a2332;">78.24 M</div>
<div class="t c" style="left:578.5px;top:81.5px;font-size:11px;color:#4a5563;">Vol</div>
<div class="t c" style="left:647.4px;top:63px;font-size:13.5px;font-weight:bold;color:#1a2332;-webkit-text-stroke:0.25px #1a2332;">220.48 M</div>
<div class="t c" style="left:647.4px;top:81.5px;font-size:11px;color:#4a5563;">Vol USD</div>
<div class="t r" style="top:109.6px;font-size:11px;font-weight:bold;color:#1e2633;-webkit-text-stroke:0.25px #1e2633;">2.86</div>
<div class="t r" style="top:163.0px;font-size:11px;font-weight:bold;color:#1e2633;-webkit-text-stroke:0.25px #1e2633;">2.84</div>
<div class="t r" style="top:216.3px;font-size:11px;font-weight:bold;color:#1e2633;-webkit-text-stroke:0.25px #1e2633;">2.82</div>
<div class="t r" style="top:269.5px;font-size:11px;font-weight:bold;color:#1e2633;-webkit-text-stroke:0.25px #1e2633;">2.80</div>
<div class="t r" style="top:318.5px;font-size:11.4px;font-weight:bold;color:#7f8c80;-webkit-text-stroke:0.2px #7f8c80;">2,000,000</div>
<div class="t c" style="left:-34.6px;top:352.3px;font-size:10.8px;font-weight:bold;color:#1e2633;-webkit-text-stroke:0.25px #1e2633;">06:00</div>
<div class="t c" style="left:153.3px;top:352.3px;font-size:10.8px;font-weight:bold;color:#1e2633;-webkit-text-stroke:0.25px #1e2633;">12:00</div>
<div class="t c" style="left:340.5px;top:352.3px;font-size:10.8px;font-weight:bold;color:#1e2633;-webkit-text-stroke:0.25px #1e2633;">18:00</div>
<div class="t c" style="left:528.6px;top:352.3px;font-size:10.8px;font-weight:bold;color:#1e2633;-webkit-text-stroke:0.25px #1e2633;">00:00</div>
<svg width="736" height="454" style="pointer-events:none">
<path d="M198.5 93.6 L211.3 93.6 L204.9 83.5 Z" fill="#5fbb72"/>
<g fill="#000">
<rect x="591" y="23.9" width="13" height="1.8"/>
<rect x="590.5" y="25" width="1.8" height="12"/>
<rect x="591" y="36.4" width="6.5" height="1.8"/>
<circle cx="591.4" cy="24.8" r="2.45"/><circle cx="597.8" cy="24.8" r="2.45"/><circle cx="604.3" cy="24.8" r="2.45"/>
<circle cx="591.4" cy="31" r="2.45"/><circle cx="597.8" cy="31" r="1.1"/><circle cx="604.3" cy="31" r="1.1"/>
<circle cx="591.4" cy="37.3" r="2.45"/><circle cx="597.8" cy="37.3" r="2.45"/><circle cx="604.3" cy="37.3" r="1.1"/>
</g></svg>
</div></body></html>
